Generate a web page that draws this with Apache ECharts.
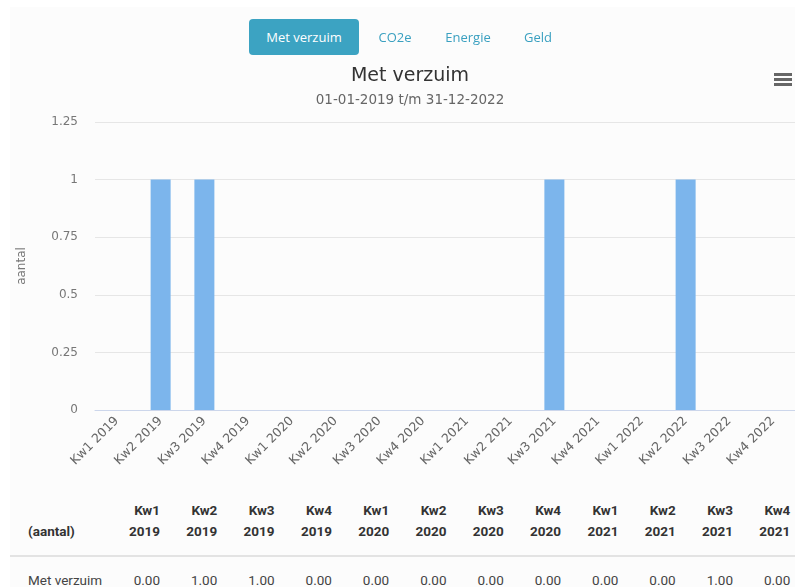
<!DOCTYPE html>
<html>
<head>
<meta charset="utf-8">
<script src="https://cdn.jsdelivr.net/npm/echarts@6/dist/echarts.min.js"></script>
<style>
  html, body { margin: 0; padding: 0; background: #fff; overflow: hidden; width: 795px; height: 587px; }
  #wrap { position: absolute; left: 10px; top: 7px; width: 800px; height: 600px; background: #fcfcfc; }
  #chart { position: absolute; left: 0; top: 0; width: 820px; height: 470px; }
  .tab { position: absolute; top: 19px; height: 36px; line-height: 36px; font-family: "Open Sans", sans-serif; font-size: 13px; color: #3aa0c0; text-align: center; }
  .tab.active { background: #3ca3c2; color: #fff; border-radius: 4px; }
  .cell { position: absolute; font-family: Roboto, sans-serif; font-size: 13.5px; color: #333; text-align: right; width: 50px; }
  .hd { font-weight: bold; line-height: 21px; }
  .sep { position: absolute; left: 10px; top: 555px; width: 785px; height: 2px; background: #e3e3e3; }
</style>
</head>
<body>
<div id="wrap"></div>
<div id="chart"></div>
<div id="tabs"></div>
<div id="table"></div>
<div class="sep"></div>
<script>
// categorieen (kwartalen)
const categories = ['Kw1 2019', 'Kw2 2019', 'Kw3 2019', 'Kw4 2019', 'Kw1 2020', 'Kw2 2020', 'Kw3 2020', 'Kw4 2020',
  'Kw1 2021', 'Kw2 2021', 'Kw3 2021', 'Kw4 2021', 'Kw1 2022', 'Kw2 2022', 'Kw3 2022', 'Kw4 2022']
// aantal met verzuim
const verzuim = [0, 1, 1, 0, 0, 0, 0, 0, 0, 0, 1, 0, 0, 1, 0, 0]
const yTicks = [0, 0.25, 0.5, 0.75, 1, 1.25]
const tabs = ['Met verzuim', 'CO2e', 'Energie', 'Geld']

// tabs bovenaan
const tabPos = [[249, 110], [370, 50], [432, 72], [512, 52]]
document.getElementById('tabs').innerHTML = tabs.map((t, i) =>
  `<div class="tab${i === 0 ? ' active' : ''}" style="left:${tabPos[i][0]}px;width:${tabPos[i][1]}px">${t}</div>`
).join('')

// data tabel onder de grafiek
let html = `<div class="cell hd" style="left:28px;top:521px;text-align:left;width:80px">(aantal)</div>`
html += `<div class="cell" style="left:28px;top:572px;text-align:left;width:80px;color:#444">Met verzuim</div>`
categories.forEach((c, i) => {
  const right = 160 + i * 57.3
  const [kw, jaar] = c.split(' ')
  html += `<div class="cell hd" style="left:${right - 50}px;top:500px">${kw}<br>${jaar}</div>`
  html += `<div class="cell" style="left:${right - 50}px;top:572px;color:#444">${verzuim[i].toFixed(2)}</div>`
})
document.getElementById('table').innerHTML = html

const chart = echarts.init(document.getElementById('chart'))
chart.setOption({
  animation: false,
  textStyle: { fontFamily: '"DejaVu Sans", sans-serif' },
  title: {
    text: 'Met verzuim',
    subtext: '01-01-2019 t/m 31-12-2022',
    left: 'center',
    top: 62,
    itemGap: 7,
    textStyle: { fontSize: 19, fontWeight: 'normal', color: '#333' },
    subtextStyle: { fontSize: 13.5, color: '#666' }
  },
  grid: { left: 95, right: 25, top: 122, bottom: 60 },
  xAxis: {
    type: 'category',
    data: categories,
    axisLine: { lineStyle: { color: '#ccd6eb' } },
    axisTick: { show: false },
    axisLabel: { rotate: 45, margin: 9, color: '#666', fontSize: 12.5, interval: 0 }
  },
  yAxis: {
    type: 'value',
    min: yTicks[0],
    max: yTicks[yTicks.length - 1],
    interval: 0.25,
    name: 'aantal',
    nameLocation: 'middle',
    nameGap: 67,
    nameTextStyle: { color: '#777', fontSize: 12 },
    axisLabel: { color: '#777', fontSize: 12, margin: 17 },
    splitLine: { lineStyle: { color: '#e6e6e6' } }
  },
  series: [{
    name: 'Met verzuim',
    type: 'bar',
    data: verzuim,
    barWidth: 20,
    itemStyle: { color: '#7cb5ec' }
  }],
  // menu icoon rechtsboven
  graphic: [{
    type: 'group',
    left: 774,
    top: 73,
    children: [0, 5, 10].map(y => ({
      type: 'rect',
      shape: { x: 0, y: y, width: 18, height: 3 },
      style: { fill: '#666' }
    }))
  }]
})
</script>
</body>
</html>
